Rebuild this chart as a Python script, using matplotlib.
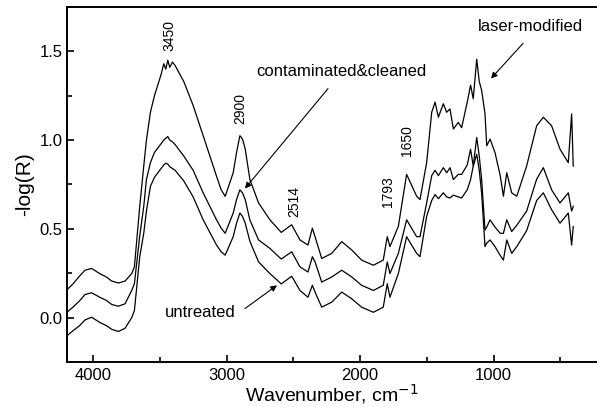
import matplotlib
matplotlib.use("Agg")
import matplotlib.pyplot as plt
from matplotlib.ticker import MultipleLocator, FormatStrFormatter

plt.rcParams['font.family'] = ['Liberation Sans', 'DejaVu Sans']

# Wavenumber grid (cm^-1) shared by the three spectra
wavenumber = [4195, 4150, 4100, 4060, 4010, 3950, 3900, 3860, 3810, 3760, 3710, 3690,
              3650, 3620, 3600, 3570, 3540, 3490, 3470, 3455, 3440, 3425, 3405, 3385,
              3320, 3250, 3175, 3075, 3040, 3010, 2950, 2925, 2900, 2880, 2860, 2825,
              2760, 2675, 2590, 2512, 2450, 2390, 2357, 2337, 2287, 2212, 2137, 2062,
              1988, 1900, 1826, 1796, 1776, 1713, 1651, 1576, 1551, 1501, 1463, 1438,
              1413, 1376, 1351, 1326, 1301, 1264, 1239, 1197, 1172, 1152, 1126, 1107,
              1089, 1064, 1051, 1026, 989, 950, 926, 901, 864, 826, 752, 677,
              627, 565, 502, 440, 415, 403]

laser_modified = [0.157, 0.19, 0.235, 0.267, 0.277, 0.248, 0.229, 0.206, 0.195, 0.206, 0.248, 0.286,
                  0.627, 0.854, 1.0, 1.157, 1.25, 1.37, 1.43, 1.40, 1.45, 1.41, 1.44, 1.42,
                  1.33, 1.195, 1.025, 0.797, 0.72, 0.683, 0.816, 0.93, 1.025, 1.006, 0.95, 0.778,
                  0.646, 0.551, 0.48, 0.523, 0.4375, 0.409, 0.504, 0.456, 0.333, 0.362, 0.428, 0.381,
                  0.324, 0.295, 0.324, 0.456, 0.40, 0.514, 0.807, 0.684, 0.665, 0.873, 1.157, 1.214,
                  1.129, 1.205, 1.157, 1.176, 1.0625, 1.1, 1.07, 1.214, 1.31, 1.233, 1.456, 1.33,
                  1.28, 1.15, 0.968, 1.006, 0.93, 0.80, 0.684, 0.816, 0.703, 0.684, 0.854, 1.081,
                  1.129, 1.081, 0.949, 0.873, 1.148, 0.854]

contaminated_cleaned = [0.03, 0.059, 0.095, 0.13, 0.14, 0.115, 0.097, 0.074, 0.064, 0.078, 0.153, 0.191,
                        0.46, 0.627, 0.778, 0.873, 0.93, 0.98, 1.0, 1.01, 1.02, 1.0, 0.99, 0.975,
                        0.91, 0.83, 0.703, 0.551, 0.504, 0.475, 0.589, 0.665, 0.72, 0.703, 0.665, 0.55,
                        0.4375, 0.39, 0.33, 0.371, 0.286, 0.257, 0.343, 0.314, 0.20, 0.229, 0.267, 0.229,
                        0.182, 0.153, 0.182, 0.314, 0.248, 0.362, 0.551, 0.456, 0.456, 0.646, 0.80, 0.83,
                        0.80, 0.845, 0.816, 0.845, 0.778, 0.807, 0.807, 0.86, 0.949, 0.854, 1.015, 0.91,
                        0.778, 0.494, 0.51, 0.551, 0.51, 0.475, 0.475, 0.551, 0.485, 0.52, 0.6, 0.78,
                        0.845, 0.72, 0.646, 0.703, 0.60, 0.627]

untreated = [-0.102, -0.074, -0.045, -0.013, 0.002, -0.027, -0.045, -0.066, -0.078, -0.06, 0.0, 0.04,
             0.343, 0.475, 0.60, 0.74, 0.79, 0.84, 0.86, 0.87, 0.865, 0.85, 0.84, 0.83,
             0.77, 0.68, 0.551, 0.409, 0.371, 0.352, 0.456, 0.532, 0.589, 0.57, 0.532, 0.43,
             0.314, 0.248, 0.19, 0.233, 0.153, 0.115, 0.182, 0.144, 0.059, 0.087, 0.144, 0.106,
             0.059, 0.03, 0.059, 0.191, 0.115, 0.248, 0.456, 0.362, 0.343, 0.57, 0.66, 0.693,
             0.67, 0.703, 0.68, 0.674, 0.69, 0.68, 0.674, 0.72, 0.778, 0.854, 0.92, 0.83,
             0.70, 0.40, 0.42, 0.4375, 0.40, 0.35, 0.324, 0.4375, 0.362, 0.40, 0.49, 0.66,
             0.703, 0.608, 0.532, 0.589, 0.409, 0.513]

# Band positions labelled above the spectra: (text, wavenumber, y)
band_labels = [("3450", 3431, 1.59), ("2900", 2899, 1.18), ("2514", 2494, 0.653),
               ("1793", 1790, 0.71), ("1650", 1648, 1.0)]

fig = plt.figure(figsize=(5.97, 4.07), dpi=100)
ax = fig.add_axes([0.1122, 0.1106, 0.8878, 0.8722])

for series in (laser_modified, contaminated_cleaned, untreated):
    ax.plot(wavenumber, series, color='black', lw=0.9)

ax.set_xlim(4195, 225)
ax.set_ylim(-0.25, 1.75)

ax.xaxis.set_major_locator(MultipleLocator(1000))
ax.xaxis.set_minor_locator(MultipleLocator(500))
ax.yaxis.set_major_locator(MultipleLocator(0.5))
ax.yaxis.set_minor_locator(MultipleLocator(0.25))
ax.yaxis.set_major_formatter(FormatStrFormatter('%.1f'))

ax.tick_params(which='both', direction='in', width=1.2, labelsize=12,
               top=False, right=False)
ax.tick_params(which='major', length=5)
ax.tick_params(which='minor', length=3.5)
ax.tick_params(axis='x', pad=4)
ax.tick_params(axis='y', pad=3)

for side in ('left', 'bottom', 'top'):
    ax.spines[side].set_linewidth(1.4)
ax.spines['right'].set_visible(False)

ax.set_xlabel('Wavenumber, cm$^{-1}$', fontsize=14, labelpad=0)
ax.set_ylabel('-log(R)', fontsize=15, labelpad=4)

for text, x, y in band_labels:
    ax.text(x, y, text, rotation=90, ha='center', va='center', fontsize=10)

arrow = dict(arrowstyle='-|>', color='black', lw=0.8, mutation_scale=9,
             shrinkA=0, shrinkB=0)
ax.annotate('', xy=(2862, 0.727), xytext=(2240, 1.29), arrowprops=arrow)
ax.text(2779, 1.386, 'contaminated&cleaned', fontsize=12, ha='left', va='center')
ax.annotate('', xy=(1019, 1.347), xytext=(779, 1.545), arrowprops=arrow)
ax.text(1116, 1.64, 'laser-modified', fontsize=12, ha='left', va='center')
ax.annotate('', xy=(2622, 0.182), xytext=(2862, 0.051), arrowprops=arrow)
ax.text(3461, 0.03, 'untreated', fontsize=12, ha='left', va='center')

fig.savefig('out.png', dpi=100)
